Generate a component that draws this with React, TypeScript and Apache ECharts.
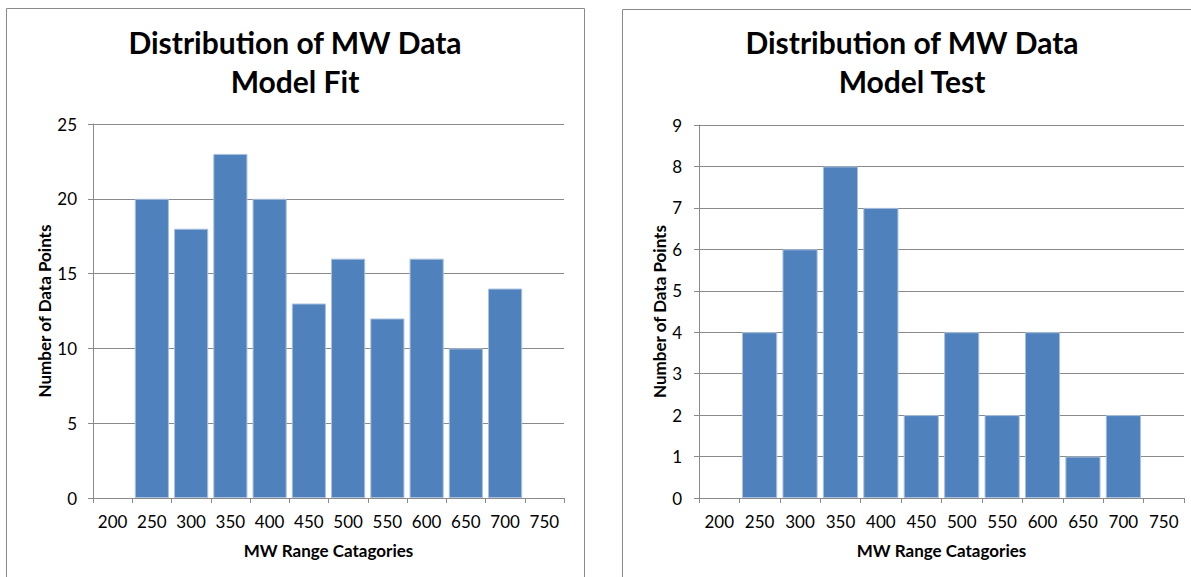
import React, { useEffect, useRef } from "react";
import * as echarts from "echarts";

const categories = ["200", "250", "300", "350", "400", "450", "500", "550", "600", "650", "700", "750"];
const fitCounts = [null, 20, 18, 23, 20, 13, 16, 12, 16, 10, 14, null];
const testCounts = [null, 4, 6, 8, 7, 2, 4, 2, 4, 1, 2, null];
const fitTitle = "Distribution of MW Data\nModel Fit";
const testTitle = "Distribution of MW Data\nModel Test";
const xName = "MW Range Catagories";
const yName = "Number of Data Points";

const FONT = "Lato, 'Open Sans', sans-serif";
const BAR = "#4f81bd";
const GRID_LINE = "#8a8a8a";

function xAxis(gridIndex: number) {
  return {
    type: "category",
    gridIndex,
    data: categories,
    boundaryGap: true,
    name: xName,
    nameLocation: "middle",
    nameGap: 44,
    nameTextStyle: { fontFamily: FONT, fontWeight: "bold", fontSize: 17, color: "#000" },
    axisLine: { show: true, lineStyle: { color: GRID_LINE, width: 1 } },
    axisTick: { show: true, alignWithLabel: false, length: 5, lineStyle: { color: GRID_LINE } },
    axisLabel: { fontFamily: FONT, fontSize: 17, color: "#000", margin: 15, interval: 0 },
    splitLine: { show: false },
  };
}

function yAxis(gridIndex: number, max: number, interval: number, nameGap: number, margin: number) {
  return {
    type: "value",
    gridIndex,
    min: 0,
    max,
    interval,
    name: yName,
    nameLocation: "middle",
    nameGap,
    nameRotate: 90,
    nameTextStyle: { fontFamily: FONT, fontWeight: "bold", fontSize: 17, color: "#000" },
    axisLine: { show: true, lineStyle: { color: GRID_LINE, width: 1 } },
    axisTick: { show: true, length: 5, lineStyle: { color: GRID_LINE } },
    axisLabel: { fontFamily: FONT, fontSize: 17, color: "#000", margin },
    splitLine: { show: true, lineStyle: { color: GRID_LINE, width: 1 } },
  };
}

function barSeries(idx: number, data: (number | null)[]) {
  return {
    type: "bar",
    xAxisIndex: idx,
    yAxisIndex: idx,
    data,
    barCategoryGap: "13%",
    itemStyle: { color: BAR, borderColor: "#a9c0de", borderWidth: 1 },
  };
}

export default function App() {
  const ref = useRef<HTMLDivElement>(null);
  useEffect(() => {
    if (!ref.current) return;
    const chart = echarts.init(ref.current, null, { renderer: "svg" });
    const titleStyle = {
      fontFamily: FONT,
      fontWeight: "bold",
      fontSize: 30,
      lineHeight: 39,
      fill: "#000",
      textAlign: "center",
      textVerticalAlign: "top",
    };
    chart.setOption({
      animation: false,
      backgroundColor: "#ffffff",
      grid: [
        { left: 93, top: 124, width: 471, height: 374, containLabel: false },
        { left: 699, top: 125, width: 485, height: 373, containLabel: false },
      ],
      xAxis: [xAxis(0), xAxis(1)],
      yAxis: [yAxis(0, 25, 5, 39, 16), yAxis(1, 9, 1, 29, 17)],
      series: [barSeries(0, fitCounts), barSeries(1, testCounts)],
      graphic: [
        {
          type: "rect",
          shape: { x: 6.5, y: 8.5, width: 578, height: 600 },
          style: { fill: "none", stroke: "#8a8a8a", lineWidth: 1 },
          silent: true,
        },
        {
          type: "rect",
          shape: { x: 622.5, y: 9.5, width: 600, height: 600 },
          style: { fill: "none", stroke: "#8a8a8a", lineWidth: 1 },
          silent: true,
        },
        {
          type: "text",
          x: 295,
          y: 22,
          style: { ...titleStyle, text: fitTitle },
          silent: true,
        },
        {
          type: "text",
          x: 912,
          y: 22,
          style: { ...titleStyle, text: testTitle },
          silent: true,
        },
      ],
    });
    return () => chart.dispose();
  }, []);
  return (
    <div
      ref={ref}
      style={{ position: "fixed", left: 0, top: 0, width: 1191, height: 577, background: "#fff" }}
    />
  );
}
